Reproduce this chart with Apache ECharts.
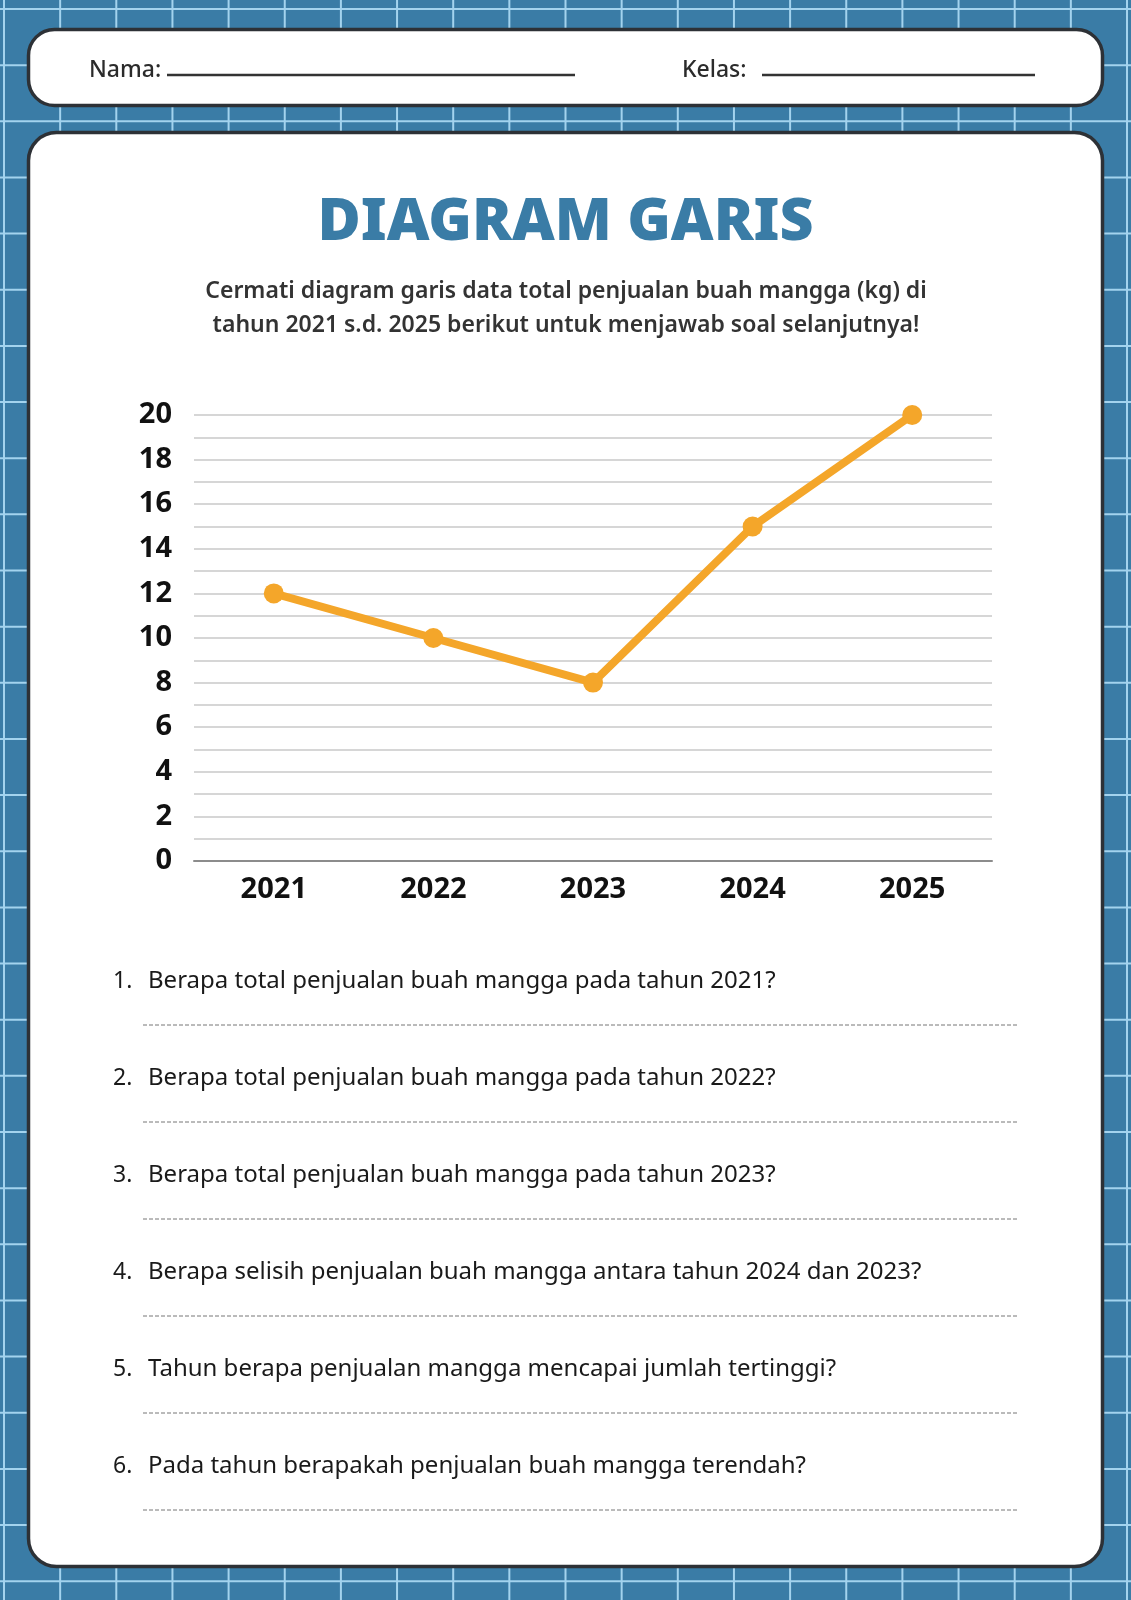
<!DOCTYPE html>
<html>
<head>
<meta charset="utf-8">
<title>Diagram Garis</title>
<script src="https://cdn.jsdelivr.net/npm/echarts@6/dist/echarts.min.js"></script>
<style>
  html, body { margin: 0; padding: 0; background: #3a7ca6; }
  #chart { width: 1131px; height: 1600px; }
</style>
</head>
<body>
<div id="chart"></div>
<script>
  // data read from the worksheet
  var years = ['2021', '2022', '2023', '2024', '2025'];
  var salesKg = [12, 10, 8, 15, 20];
  var yTickLabels = [0, 2, 4, 6, 8, 10, 12, 14, 16, 18, 20];

  var subtitleLines = [
    'Cermati diagram garis data total penjualan buah mangga (kg) di',
    'tahun 2021 s.d. 2025 berikut untuk menjawab soal selanjutnya!'
  ];
  var questions = [
    'Berapa total penjualan buah mangga pada tahun 2021?',
    'Berapa total penjualan buah mangga pada tahun 2022?',
    'Berapa total penjualan buah mangga pada tahun 2023?',
    'Berapa selisih penjualan buah mangga antara tahun 2024 dan 2023?',
    'Tahun berapa penjualan mangga mencapai jumlah tertinggi?',
    'Pada tahun berapakah penjualan buah mangga terendah?'
  ];

  var FONT = '"Noto Sans", sans-serif';
  var BG_LINE = '#a3d3ee';
  var BORDER = '#2d3136';

  var graphics = [];

  // blue grid paper background
  for (var gx = 4; gx < 1131; gx += 56.15) {
    graphics.push({
      type: 'line', z: -20, silent: true,
      shape: { x1: gx, y1: 0, x2: gx, y2: 1600 },
      style: { stroke: BG_LINE, lineWidth: 2 }
    });
  }
  for (var gy = 9; gy < 1600; gy += 56.15) {
    graphics.push({
      type: 'line', z: -20, silent: true,
      shape: { x1: 0, y1: gy, x2: 1131, y2: gy },
      style: { stroke: BG_LINE, lineWidth: 2 }
    });
  }

  // name / class card
  graphics.push({
    type: 'rect', z: -10, silent: true,
    shape: { x: 28.5, y: 29.5, width: 1074, height: 76, r: 26 },
    style: { fill: '#fff', stroke: BORDER, lineWidth: 3.5 }
  });
  graphics.push({
    type: 'text', z: -5, x: 89, y: 70,
    style: { text: 'Nama:', font: '500 23px ' + FONT, fill: '#2b2b2b', verticalAlign: 'middle' }
  });
  graphics.push({
    type: 'line', z: -5,
    shape: { x1: 167, y1: 75, x2: 575, y2: 75 },
    style: { stroke: '#333', lineWidth: 2.5 }
  });
  graphics.push({
    type: 'text', z: -5, x: 682, y: 70,
    style: { text: 'Kelas:', font: '500 23px ' + FONT, fill: '#2b2b2b', verticalAlign: 'middle' }
  });
  graphics.push({
    type: 'line', z: -5,
    shape: { x1: 762, y1: 75, x2: 1035, y2: 75 },
    style: { stroke: '#333', lineWidth: 2.5 }
  });

  // main sheet
  graphics.push({
    type: 'rect', z: -10, silent: true,
    shape: { x: 28.5, y: 132.5, width: 1074, height: 1434, r: 28 },
    style: { fill: '#fff', stroke: BORDER, lineWidth: 3.5 }
  });

  // subtitle
  subtitleLines.forEach(function (line, i) {
    graphics.push({
      type: 'text', z: -5, x: 566, y: 291 + i * 34,
      style: {
        text: line, font: '600 23px ' + FONT, fill: '#333',
        align: 'center', verticalAlign: 'middle'
      }
    });
  });

  // questions with dashed answer lines
  questions.forEach(function (q, i) {
    var y = 981 + i * 97;
    graphics.push({
      type: 'text', z: -5, x: 113, y: y,
      style: { text: (i + 1) + '.', font: '23px ' + FONT, fill: '#1a1a1a', verticalAlign: 'middle' }
    });
    graphics.push({
      type: 'text', z: -5, x: 148, y: y,
      style: { text: q, font: '24px ' + FONT, fill: '#1a1a1a', verticalAlign: 'middle' }
    });
    graphics.push({
      type: 'line', z: -5,
      shape: { x1: 143, y1: y + 44, x2: 1018, y2: y + 44 },
      style: { stroke: '#777', lineWidth: 1, lineDash: [4, 2] }
    });
  });

  var myChart = echarts.init(document.getElementById('chart'), null, { renderer: 'canvas' });

  var option = {
    animation: false,
    title: {
      text: 'DIAGRAM GARIS',
      left: 'center',
      top: 189,
      textStyle: {
        fontFamily: FONT,
        fontSize: 59,
        fontWeight: 900,
        color: '#3a7ca6'
      }
    },
    graphic: graphics,
    grid: {
      left: 194,
      top: 415,
      width: 798,
      height: 446,
      containLabel: false
    },
    xAxis: {
      type: 'category',
      data: years,
      boundaryGap: true,
      axisLine: { lineStyle: { color: '#8c8c8c', width: 2 } },
      axisTick: { show: false },
      axisLabel: {
        margin: 14,
        fontFamily: FONT,
        fontSize: 29,
        fontWeight: 'bold',
        color: '#111'
      }
    },
    yAxis: {
      type: 'value',
      min: 0,
      max: 20,
      interval: 1,
      axisLine: { show: false },
      axisTick: { show: false },
      axisLabel: {
        margin: 22,
        fontFamily: FONT,
        fontSize: 29,
        fontWeight: 'bold',
        color: '#111',
        formatter: function (val) {
          return yTickLabels.indexOf(val) >= 0 ? String(val) : '';
        }
      },
      splitLine: { lineStyle: { color: '#c8c8c8', width: 1.5 } }
    },
    series: [
      {
        type: 'line',
        data: salesKg,
        symbol: 'circle',
        symbolSize: 20,
        lineStyle: { color: '#f4a62a', width: 8, join: 'round' },
        itemStyle: { color: '#f4a62a' },
        z: 5
      }
    ]
  };

  myChart.setOption(option);
</script>
</body>
</html>
